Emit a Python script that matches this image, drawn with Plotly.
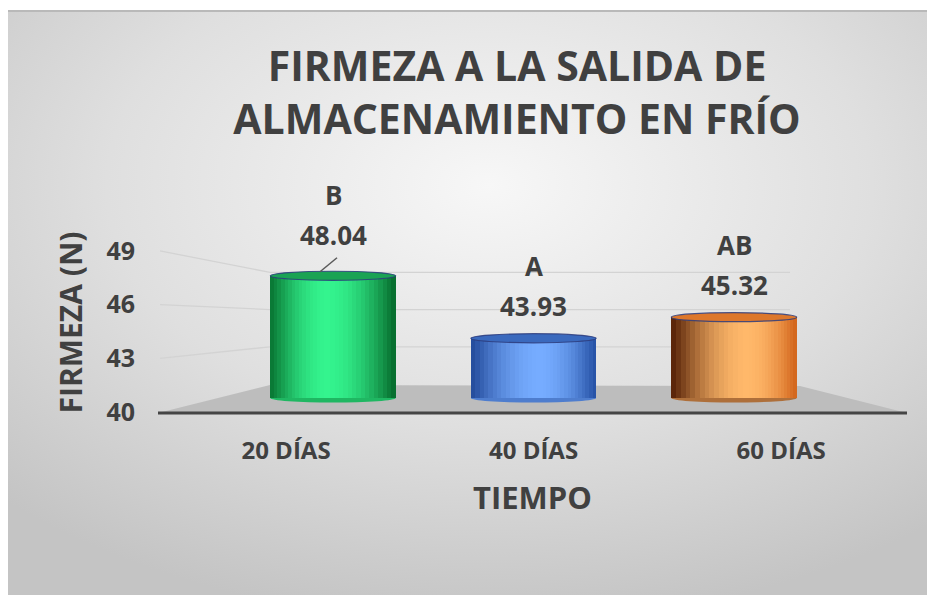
import base64
import math
import plotly.graph_objects as go

# ---------------- data ----------------
categories = ["20 DÍAS", "40 DÍAS", "60 DÍAS"]
firmeza = [48.04, 43.93, 45.32]
letters = ["B", "A", "AB"]
y_ticks = [40, 43, 46, 49]

title_text = "FIRMEZA A LA SALIDA DE<br>ALMACENAMIENTO EN FRÍO"
y_title = "FIRMEZA (N)"
x_title = "TIEMPO"

# ---------------- styling ----------------
W, H = 935, 595
OFF = 8                                   # page body margin
PL, PR, PT, PB = 175, 890, 233, 412       # plot area, screen pixels
TXT = "#404040"
FONT = "Open Sans"

front_range = [40, 50]                  # visible value axis (front edge)
bar_range = [39.079, 50.855]             # bars (middle depth)
back_range = [37.742, 52.177]            # back wall (gridlines)
bar_x_range = [-0.788, 2.778]
label_x_range = [-0.4485, 2.44]
bar_w = 0.625
base_val = 40

left_cols = [(10, 122, 54), (38, 78, 158), (92, 38, 10)]
right_cols = [(8, 112, 48), (40, 84, 168), (212, 104, 30)]
high_cols = [(52, 244, 142), (118, 172, 255), (255, 184, 106)]
hl_pos = [0.45, 0.55, 0.6]
cap_cols = ["#1aa354", "#3a69bd", "#dd772b"]
label_lift = [9, 0, 0]          # the first label was moved up (with leader line)


def px_x(px):
    return (px - PL) / (PR - PL)


def px_y(py):
    return (PB - py) / (PB - PT)


def val_to_py(v, rng):
    return PB - (v - rng[0]) / (rng[1] - rng[0]) * (PB - PT)


def lerp(a, b, t):
    return "rgb(%d,%d,%d)" % tuple(round(a[j] + (b[j] - a[j]) * t) for j in range(3))


fig = go.Figure()
n_cat = len(categories)
xs = list(range(n_cat))
heights = [v - base_val for v in firmeza]

# cylinder bodies: layered bars shading from each edge towards the highlight
N = 16
ds = [1 - 0.95 * k / (N - 1) for k in range(N)]
for d in ds:          # left half
    s = math.sqrt(max(0.0, 1 - d * d)) ** 2.2
    lefts = [-bar_w / 2 + bar_w * hl_pos[i] * (1 - d) for i in xs]
    widths = [bar_w / 2 - lefts[i] for i in xs]
    fig.add_trace(go.Bar(x=xs, y=heights, base=base_val, width=widths, offset=lefts,
                         marker=dict(color=[lerp(left_cols[i], high_cols[i], s) for i in xs],
                                     line=dict(width=0)),
                         xaxis="x", yaxis="y2", hoverinfo="skip", showlegend=False))
for d in ds:          # right half
    s = math.sqrt(max(0.0, 1 - d * d)) ** 2.2
    lefts = [-bar_w / 2 + bar_w * hl_pos[i] for i in xs]
    widths = [bar_w * (1 - hl_pos[i]) * d for i in xs]
    fig.add_trace(go.Bar(x=xs, y=heights, base=base_val, width=widths, offset=lefts,
                         marker=dict(color=[lerp(right_cols[i], high_cols[i], s) for i in xs],
                                     line=dict(width=0)),
                         xaxis="x", yaxis="y2", hoverinfo="skip", showlegend=False))

# invisible helper trace for the category-label axis
fig.add_trace(go.Scatter(x=xs, y=[base_val] * n_cat, mode="markers", marker=dict(opacity=0),
                         xaxis="x2", yaxis="y", hoverinfo="skip", showlegend=False))

shapes = []
floor_pts = [(158, 413), (270, 385), (800, 386), (907, 413)]
path = "M " + " L ".join("%f,%f" % (px_x(a), px_y(b)) for a, b in floor_pts) + " Z"
shapes.append(dict(type="path", path=path, xref="paper", yref="paper",
                   fillcolor="#bdbdbd", line=dict(width=0), layer="below"))
for t in y_ticks[1:]:
    p = "M %f,%f L %f,%f L %f,%f" % (
        px_x(160), px_y(val_to_py(t, front_range)),
        px_x(270), px_y(val_to_py(t, back_range)),
        px_x(790), px_y(val_to_py(t, back_range)))
    shapes.append(dict(type="path", path=p, xref="paper", yref="paper",
                       line=dict(color="#d3d3d3", width=1.3), layer="below"))
shapes.append(dict(type="line", xref="paper", yref="paper",
                   x0=px_x(158), x1=px_x(907), y0=px_y(413), y1=px_y(413),
                   line=dict(color="#454545", width=3.2), layer="below"))
shapes.append(dict(type="line", xref="paper", yref="paper",
                   x0=px_x(7), x1=px_x(935), y0=px_y(11), y1=px_y(11),
                   line=dict(color="#b9b9b9", width=2), layer="below"))

dh = 0.3
for i, v in enumerate(firmeza):
    shapes.append(dict(type="circle", xref="x", yref="y2",
                       x0=i - bar_w / 2, x1=i + bar_w / 2, y0=base_val - dh, y1=base_val + dh,
                       fillcolor=lerp(left_cols[i], high_cols[i], 0.5), line=dict(width=0),
                       layer="below"))
    shapes.append(dict(type="circle", xref="x", yref="y2",
                       x0=i - bar_w / 2, x1=i + bar_w / 2, y0=v - dh, y1=v + dh,
                       fillcolor=cap_cols[i], line=dict(color="rgba(45,60,125,0.85)", width=1.2),
                       layer="above"))
    if label_lift[i]:
        shapes.append(dict(type="line", xref="x", yref="y2",
                           xsizemode="pixel", xanchor=i, x0=-13, x1=4,
                           ysizemode="pixel", yanchor=v, y0=4, y1=18,
                           line=dict(color="#5a5a5a", width=1.5), layer="above"))

annotations = []
for i, v in enumerate(firmeza):
    annotations.append(dict(x=i, y=v, xref="x", yref="y2", text="%.2f" % v, showarrow=False,
                            yanchor="middle", yshift=32 + label_lift[i],
                            font=dict(family=FONT, size=26, color=TXT, weight="bold")))
    annotations.append(dict(x=i, y=v, xref="x", yref="y2", text=letters[i], showarrow=False,
                            yanchor="middle", yshift=72 + label_lift[i],
                            font=dict(family=FONT, size=26, color=TXT, weight="bold")))

svg = ('<svg xmlns="http://www.w3.org/2000/svg" width="928" height="585" viewBox="0 0 928 585" '
       'preserveAspectRatio="none"><defs><radialGradient id="g" cx="0.52" cy="0.3" r="0.75">'
       '<stop offset="0" stop-color="#f7f7f7"/><stop offset="0.55" stop-color="#dfdfdf"/>'
       '<stop offset="1" stop-color="#c4c4c4"/></radialGradient></defs>'
       '<rect width="928" height="585" fill="url(#g)"/></svg>')
bg_src = "data:image/svg+xml;base64," + base64.b64encode(svg.encode()).decode()

fig.update_layout(
    template="none",
    width=W, height=H,
    margin=dict(l=PL - OFF, r=W - (PR - OFF), t=PT - OFF, b=H - (PB - OFF), autoexpand=False),
    paper_bgcolor="white", plot_bgcolor="rgba(0,0,0,0)",
    font=dict(family=FONT, color=TXT),
    barmode="overlay", bargap=0,
    showlegend=False,
    title=dict(text=title_text, x=(517 - OFF) / W, xanchor="center", xref="container",
               y=1 - (81 - OFF) / H, yanchor="middle", yref="container",
               font=dict(family=FONT, size=41, color=TXT, weight="bold")),
    xaxis=dict(range=bar_x_range, visible=False, fixedrange=True),
    xaxis2=dict(range=label_x_range, overlaying="x", anchor="y", side="bottom",
                tickvals=xs, ticktext=categories,
                tickfont=dict(family=FONT, size=24, color=TXT, weight="bold"),
                ticks="", showgrid=False, zeroline=False, showline=False,
                ticklabelstandoff=22, automargin=False,
                title=dict(text=x_title, standoff=22,
                           font=dict(family=FONT, size=31, color=TXT, weight="bold"))),
    yaxis=dict(range=front_range, tickvals=y_ticks, ticks="", showgrid=False, zeroline=False,
               showline=False, ticklabelstandoff=39, automargin=False,
               tickfont=dict(family=FONT, size=25, color=TXT, weight="bold"),
               title=dict(text=y_title, standoff=14,
                          font=dict(family=FONT, size=30, color=TXT, weight="bold"))),
    yaxis2=dict(range=bar_range, overlaying="y", visible=False),
    yaxis3=dict(range=back_range, overlaying="y", visible=False),
    shapes=shapes,
    annotations=annotations,
    images=[dict(source=bg_src, xref="paper", yref="paper", x=px_x(7), y=px_y(10),
                 sizex=(W - 7) / (PR - PL), sizey=(H - 10) / (PB - PT),
                 xanchor="left", yanchor="top", sizing="stretch", layer="below")],
)

fig.write_html("out.html")
